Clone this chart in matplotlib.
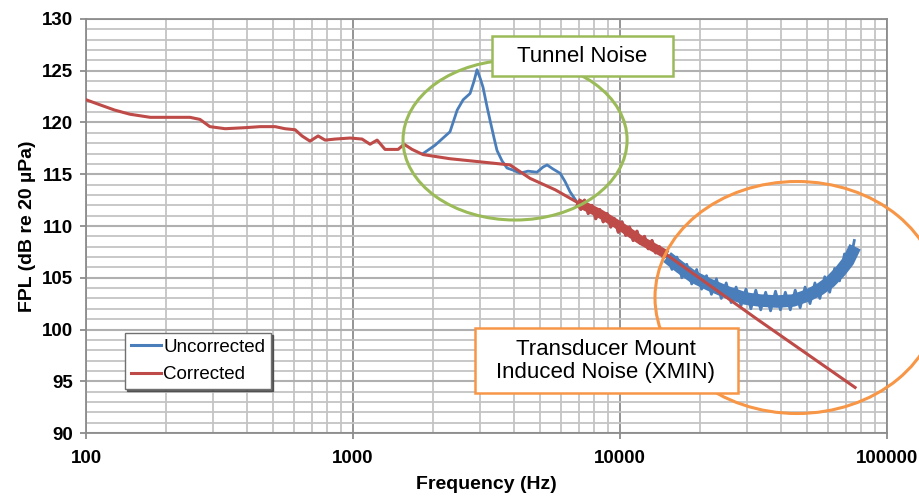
import matplotlib.pyplot as plt
from matplotlib.patches import Ellipse, Rectangle
from matplotlib.ticker import LogLocator, MultipleLocator, FixedLocator

plt.rcParams['font.family'] = ['Liberation Sans', 'DejaVu Sans']

# corrected spectrum (Hz, dB)
corr_f = [100, 113, 128, 146, 174, 200, 245, 267, 291, 332, 394, 449, 511, 556, 607,
          644, 690, 740, 786, 857, 975, 1081, 1158, 1231, 1318, 1475, 1553, 1664, 1829,
          2307, 2991, 3873, 4603, 5715,
          6900, 7130, 7360, 7600, 7850, 8110, 8380, 8650, 8940, 9230, 9530, 9850, 10170,
          10500, 10850, 11200, 11570, 11950, 12340, 12750, 13170, 13600, 14050, 14500,
          15000, 32600, 75900]
corr_db = [122.2, 121.7, 121.2, 120.8, 120.5, 120.5, 120.5, 120.3, 119.6, 119.4, 119.5,
           119.6, 119.6, 119.4, 119.3, 118.7, 118.2, 118.7, 118.3, 118.4, 118.5, 118.4,
           117.9, 118.3, 117.4, 117.4, 117.9, 117.4, 116.9,
           116.5, 116.2, 115.9, 114.6, 113.5,
           112.3, 111.6, 112.5, 111.2, 112.0, 110.7, 111.6, 110.4, 111.2, 109.9, 110.7,
           109.4, 110.4, 109.1, 109.9, 108.6, 109.5, 108.3, 109.0, 107.8, 108.6, 107.4,
           108.0, 107.0,
           107.2, 101.0, 94.4]
# centre of the ragged corrected band 6.9-15 kHz
corr_band_f = [6900, 8400, 10000, 12000, 15000]
corr_band_db = [112.3, 111.2, 110.0, 108.6, 107.2]

# uncorrected spectrum (tunnel-noise hump and high-frequency rise)
unc_f = [1829, 2028, 2173, 2307, 2455, 2585, 2743, 2839, 2913, 2991, 3068, 3177, 3260,
         3374, 3461, 3613, 3773, 3975, 4219, 4520, 4886, 5150, 5330, 5616, 5963, 6223,
         6500, 6900,
         15000, 15650, 16330, 17040, 17780, 18550, 19360, 20200, 21080, 21990, 22950,
         23940, 24980, 26070, 27200, 28380, 29610, 30900, 32240, 33640, 35100, 36620,
         38210, 39870, 41600, 43410, 45290, 47260, 49310, 51450, 53680, 56010, 58440,
         60980, 63630, 66390, 69270, 72280, 75400]
unc_db = [117.0, 117.8, 118.5, 119.1, 121.2, 122.2, 122.8, 124.0, 125.1, 124.3, 123.4,
          121.5, 120.2, 118.5, 117.3, 116.3, 115.6, 115.4, 115.1, 115.3, 115.2, 115.7,
          115.9, 115.5, 115.1, 114.3, 113.3, 112.3,
          107.0, 105.8, 107.0, 105.0, 106.3, 104.4, 105.8, 103.9, 105.2, 103.4, 104.9,
          103.0, 104.5, 102.6, 104.1, 102.3, 103.9, 102.0, 103.8, 101.9, 103.6, 101.8,
          103.7, 101.9, 103.6, 101.9, 103.8, 102.1, 104.1, 102.5, 104.5, 103.0, 105.1,
          103.6, 105.9, 104.7, 107.3, 106.2, 108.6]
# centre of the ragged uncorrected band above 15 kHz
unc_band_f = [15000, 16800, 18770, 21720, 25170, 29400, 33440, 38720, 44460, 50580,
              56100, 61200, 66700, 71500, 75900]
unc_band_db = [107.0, 106.0, 105.1, 104.3, 103.6, 103.0, 102.8, 102.7, 102.8, 103.3,
               103.9, 104.6, 105.6, 106.6, 108.0]

# uncorrected lies under the corrected curve between the two noise regions
mid_f = corr_f[34:59]
mid_db = corr_db[34:59]

blue = '#4a7ebb'
red = '#be4b48'

fig = plt.figure(figsize=(9.2, 4.96), dpi=100)
ax = fig.add_axes([0.0935, 0.127, 0.8707, 0.8347])

ax.plot(unc_f[:28] + mid_f + unc_f[28:], unc_db[:28] + mid_db + unc_db[28:],
        color=blue, lw=2.0, label='Uncorrected', zorder=3)
ax.plot(unc_band_f, unc_band_db, color=blue, lw=9, solid_capstyle='butt', zorder=3)
ax.plot(corr_f, corr_db, color=red, lw=2.2, label='Corrected', zorder=4)
ax.plot(corr_band_f, corr_band_db, color=red, lw=6.5, solid_capstyle='butt', zorder=4)

ax.set_xscale('log')
ax.set_xlim(100, 100000)
ax.set_ylim(90, 130)
ax.xaxis.set_major_locator(FixedLocator([100, 1000, 10000, 100000]))
ax.xaxis.set_minor_locator(LogLocator(base=10, subs=range(2, 10)))
ax.xaxis.set_minor_formatter(plt.NullFormatter())
ax.set_xticklabels(['100', '1000', '10000', '100000'])
ax.yaxis.set_major_locator(MultipleLocator(5))
ax.yaxis.set_minor_locator(MultipleLocator(1))

ax.grid(which='minor', color='#c4c4c4', lw=1.3)
ax.grid(which='major', axis='y', color='#b0b0b0', lw=1.5)
ax.grid(which='major', axis='x', color='#8c8c8c', lw=1.3)
ax.set_axisbelow(True)
for s in ax.spines.values():
    s.set_color('#8c8c8c')
    s.set_linewidth(1.3)
ax.tick_params(which='minor', length=0)
ax.tick_params(which='major', length=4.5, color='#8c8c8c', width=1.3,
               labelsize=13.5, pad=5)
ax.tick_params(axis='x', pad=8)
for lab in ax.get_xticklabels() + ax.get_yticklabels():
    lab.set_fontweight('bold')

ax.set_xlabel('Frequency (Hz)', fontsize=14, fontweight='bold', labelpad=6)
ax.set_ylabel('FPL (dB re 20 µPa)', fontsize=14, fontweight='bold', labelpad=4)

leg = ax.legend(loc='upper left', bbox_to_anchor=(0.0487, 0.2415), borderaxespad=0,
                fontsize=13.5, fancybox=False, handlelength=1.6, handletextpad=0.15,
                borderpad=0.3, labelspacing=0.55, framealpha=1,
                shadow={'color': '#404040', 'alpha': 0.8, 'ox': 1.5, 'oy': -1.5})
leg.get_frame().set_edgecolor('#707070')
for h in leg.get_lines():
    h.set_linewidth(2.2)

# annotation ellipses
ax.add_patch(Ellipse((0.5356, 0.7077), 0.2797, 0.3865, transform=ax.transAxes,
                     fill=False, ec='#9bbb59', lw=2.2, clip_on=False, zorder=5))
ax.add_patch(Ellipse((0.8876, 0.3273), 0.3546, 0.5604, transform=ax.transAxes,
                     fill=False, ec='#f79646', lw=2.2, clip_on=False, zorder=5))

# annotation boxes (figure pixels -> fractions)
W, H = 920.0, 496.0
fig.add_artist(Rectangle((492 / W, 1 - 76 / H), 181 / W, 40 / H, transform=fig.transFigure,
                         fc='white', ec='#9bbb59', lw=1.8, zorder=6))
fig.text(582 / W, 1 - 56 / H, 'Tunnel Noise', ha='center', va='center', fontsize=16,
         zorder=7)
fig.add_artist(Rectangle((475 / W, 1 - 393 / H), 263 / W, 65 / H, transform=fig.transFigure,
                         fc='white', ec='#f79646', lw=1.8, zorder=6))
fig.text(606 / W, 1 - 361 / H, 'Transducer Mount\nInduced Noise (XMIN)', ha='center',
         va='center', fontsize=16, linespacing=1.15, zorder=7)

fig.savefig('out.png', dpi=100)
